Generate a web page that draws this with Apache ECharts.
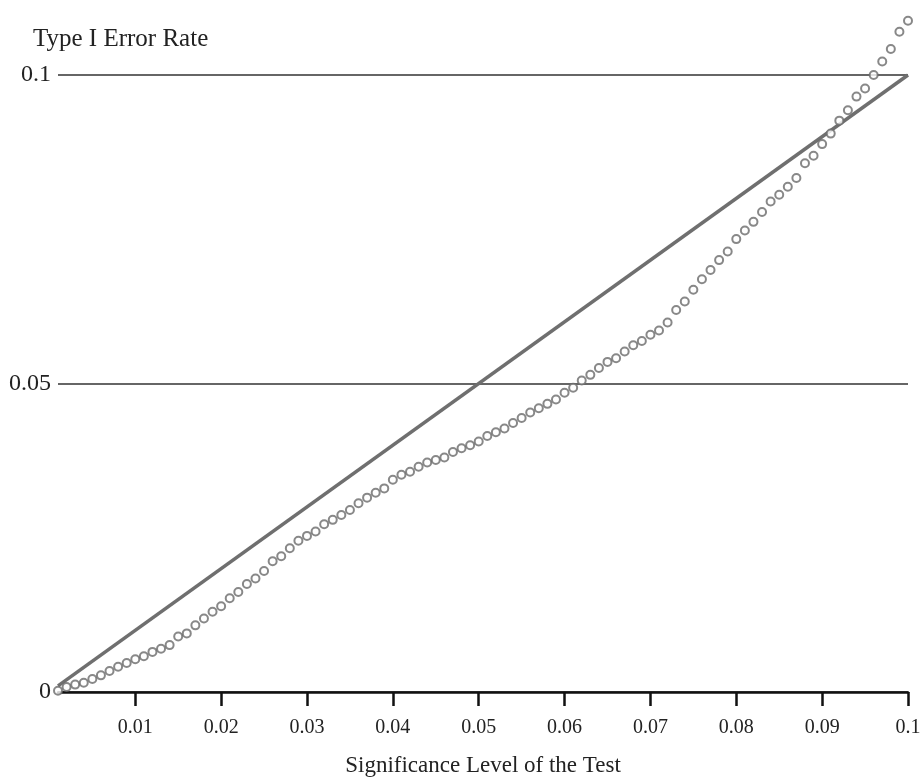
<!DOCTYPE html>
<html>
<head>
<meta charset="utf-8">
<script src="https://cdn.jsdelivr.net/npm/echarts@6/dist/echarts.min.js"></script>
<style>html,body{margin:0;padding:0;background:#fff}#c{width:920px;height:777px}</style>
</head>
<body>
<div id="c"></div>
<script>
// Significance levels (x) of the test
const levels = [];
for (let i = 1; i <= 100; i++) levels.push(+(i * 0.001).toFixed(3));
const errorRates = [
  0.0002, 0.0008, 0.0012, 0.0015, 0.0021, 0.0027, 0.0034, 0.0041, 0.0047, 0.0053,
  0.0058, 0.0065, 0.0070, 0.0076, 0.0090, 0.0095, 0.0108, 0.0119, 0.0130, 0.0139,
  0.0152, 0.0162, 0.0175, 0.0184, 0.0196, 0.0212, 0.0220, 0.0233, 0.0245, 0.0253,
  0.0260, 0.0272, 0.0279, 0.0287, 0.0295, 0.0306, 0.0315, 0.0323, 0.0330, 0.0344,
  0.0352, 0.0357, 0.0365, 0.0372, 0.0376, 0.0380, 0.0389, 0.0395, 0.0400, 0.0406,
  0.0415, 0.0421, 0.0427, 0.0436, 0.0444, 0.0453, 0.0460, 0.0467, 0.0474, 0.0485,
  0.0493, 0.0505, 0.0514, 0.0525, 0.0535, 0.0541, 0.0552, 0.0562, 0.0569, 0.0579,
  0.0586, 0.0599, 0.0619, 0.0633, 0.0652, 0.0669, 0.0684, 0.0700, 0.0714, 0.0734,
  0.0748, 0.0762, 0.0778, 0.0795, 0.0806, 0.0819, 0.0833, 0.0857, 0.0869, 0.0888,
  0.0905, 0.0926, 0.0943, 0.0965, 0.0978, 0.1000, 0.1022, 0.1042, 0.1070, 0.1088
];
// Reference diagonal (nominal = actual)
const diagX = [0.001, 0.1];
const diagY = [0.001, 0.1];
// Tick labels
const xTicks = [0.01, 0.02, 0.03, 0.04, 0.05, 0.06, 0.07, 0.08, 0.09, 0.1];
const yTicks = [0, 0.05, 0.1];

const FONT = "'Liberation Serif', 'Times New Roman', serif";
const chart = echarts.init(document.getElementById('c'), null, {renderer: 'canvas'});
chart.setOption({
  backgroundColor: '#ffffff',
  animation: false,
  title: {
    text: 'Type I Error Rate',
    left: 28, top: 22,
    textStyle: {fontFamily: FONT, fontSize: 25, fontWeight: 'normal', color: '#222'}
  },
  grid: {left: 58, right: 12, top: 75, bottom: 85, containLabel: false, outerBoundsMode: 'none'},
  xAxis: {
    type: 'value',
    min: 0.001, max: 0.1,
    name: 'Significance Level of the Test',
    nameLocation: 'middle',
    nameGap: 62,
    nameTextStyle: {fontFamily: FONT, fontSize: 23, color: '#222'},
    axisLine: {show: true, lineStyle: {color: '#111', width: 2.5}},
    axisTick: {show: true, inside: false, length: 14, customValues: xTicks, lineStyle: {color: '#111', width: 2.5}},
    axisLabel: {customValues: xTicks, margin: 26, fontFamily: FONT, fontSize: 20, color: '#222',
      formatter: v => String(+v.toFixed(3))},
    splitLine: {show: false}
  },
  yAxis: {
    type: 'value',
    min: 0, max: 0.1, interval: 0.05,
    axisLine: {show: false},
    axisTick: {show: false},
    axisLabel: {customValues: yTicks, margin: 7, fontFamily: FONT, fontSize: 24, color: '#222',
      formatter: v => String(+v.toFixed(3))},
    splitLine: {show: true, lineStyle: {color: '#333', width: 1.5}}
  },
  series: [
    {
      type: 'line',
      data: diagX.map((x, i) => [x, diagY[i]]),
      symbol: 'none',
      lineStyle: {color: '#6f6f6f', width: 3.5},
      z: 3
    },
    {
      type: 'scatter',
      clip: false,
      data: levels.map((x, i) => [x, errorRates[i]]),
      symbol: 'emptyCircle',
      symbolSize: 8,
      itemStyle: {color: '#6a6a6a', borderWidth: 1.8},
      z: 4
    }
  ]
});
</script>
</body>
</html>
